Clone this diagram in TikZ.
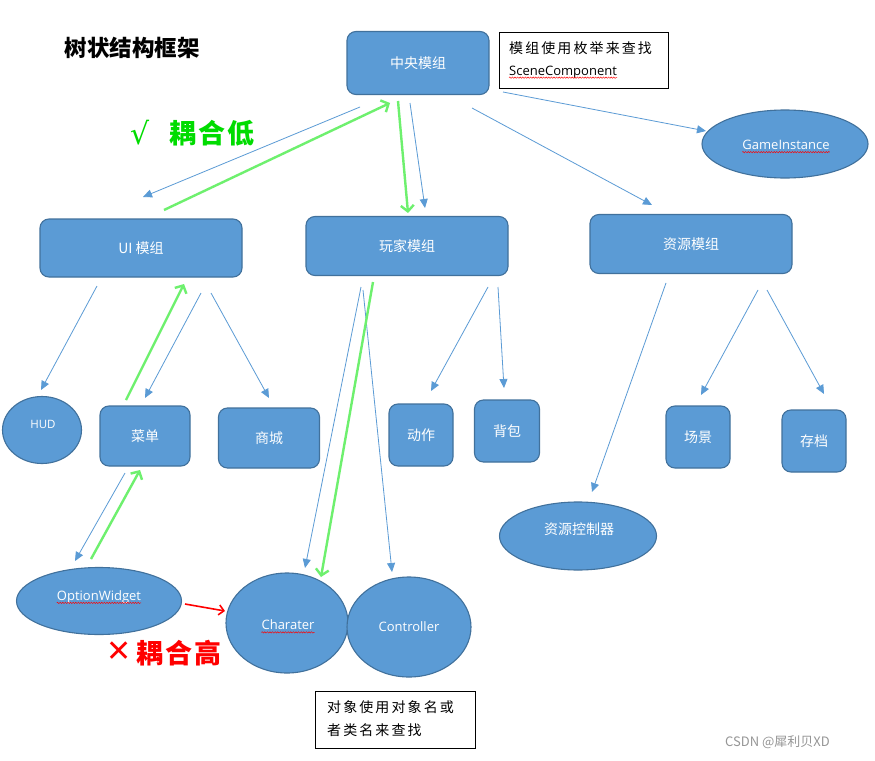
\documentclass[tikz,border=0pt]{standalone}
\usepackage{fontspec}
\newfontfamily\cjk{Noto Sans CJK SC}
\newfontfamily\cjksp{Noto Sans CJK SC}[LetterSpace=15]
\newfontfamily\cjkwide{Noto Sans CJK SC}[LetterSpace=8]
\newfontfamily\lat{Open Sans}
\newfontfamily\dvs{DejaVu Sans}
\usetikzlibrary{arrows.meta,shapes.geometric,decorations.pathmorphing}
\definecolor{boxblue}{RGB}{91,155,213}
\definecolor{boxedge}{RGB}{65,113,156}
\definecolor{arrowblue}{RGB}{91,155,213}
\definecolor{lgreen}{RGB}{110,240,110}
\definecolor{tgreen}{RGB}{0,220,0}
\definecolor{wm}{RGB}{150,150,150}
\begin{document}
\begin{tikzpicture}[x=1pt,y=-1pt,
  box/.style={draw=boxedge,fill=boxblue,line width=1.1pt,rounded corners=9pt,text=white,inner sep=0pt,font=\cjk\fontsize{14}{16}\selectfont},
  ell/.style={ellipse,draw=boxedge,fill=boxblue,line width=1.1pt,inner sep=0pt},
  etext/.style={text=white,inner sep=0pt,font=\lat\fontsize{13}{15}\selectfont},
  ctext/.style={text=white,inner sep=0pt,font=\cjk\fontsize{14}{16}\selectfont},
  note/.style={draw=black,line width=0.8pt,fill=white},
  notetext/.style={anchor=west,inner sep=0pt,font=\cjksp\fontsize{14}{16}\selectfont},
  barrow/.style={draw=arrowblue,line width=0.8pt,-{Triangle[length=9pt,width=8pt]}},
  garrow/.style={draw=lgreen,line width=2.4pt,-{Straight Barb[length=6pt,width=13pt]}},
  rarrow/.style={draw=red,line width=1.6pt,-{Straight Barb[length=5pt,width=10pt]}},
  squig/.style={draw=red,line width=0.45pt,decorate,decoration={snake,amplitude=0.7pt,segment length=2.6pt}}
]
\useasboundingbox (0,0) rectangle (875,760);
\fill[white] (0,0) rectangle (875,760);

% title
\node[font=\cjk\bfseries\fontsize{22.5}{25}\selectfont] (title) at (132,48) {树状结构框架};

% boxes
\node[box,minimum width=142pt,minimum height=63pt] (central) at (418,63) {中央模组};
\node[box,minimum width=202pt,minimum height=58pt] (ui) at (141,248) {UI 模组};
\node[box,minimum width=202pt,minimum height=59pt] (player) at (407,246) {玩家模组};
\node[box,minimum width=202pt,minimum height=59pt] (res) at (691,244) {资源模组};
\node[box,minimum width=90pt,minimum height=60pt] (menu) at (145,436) {菜单};
\node[box,minimum width=101pt,minimum height=60pt] (shop) at (269,438) {商城};
\node[box,minimum width=64pt,minimum height=62pt] (act) at (421,435) {动作};
\node[box,minimum width=65pt,minimum height=62pt] (bag) at (507,431) {背包};
\node[box,minimum width=64pt,minimum height=62pt] (scene) at (698,437) {场景};
\node[box,minimum width=64pt,minimum height=62pt] (save) at (814,441) {存档};

% ellipses
\node[ell,minimum width=166pt,minimum height=68pt] (gi) at (785,144) {};
\node[etext] (giT) at (786,145) {GameInstance};
\node[ell,minimum width=79pt,minimum height=67pt] (hud) at (42,430) {};
\node[etext,font=\lat\fontsize{11.5}{13}\selectfont] (hudT) at (43,424) {HUD};
\node[ell,minimum width=157pt,minimum height=68pt] (resctl) at (578,536) {};
\node[ctext] (resctlT) at (579,529) {资源控制器};
\node[ell,minimum width=165pt,minimum height=67pt] (ow) at (99,601) {};
\node[etext] (owT) at (99,597) {OptionWidget};
\node[ell,minimum width=122pt,minimum height=100pt] (char) at (287,623) {};
\node[etext] (charT) at (288,625) {Charater};
\node[ell,minimum width=124pt,minimum height=100pt] (ctrl) at (409,627) {};
\node[etext] (ctrlT) at (409,627) {Controller};

% spell-check squiggles
\draw[squig] ([yshift=-2.5pt]giT.base west) -- ([yshift=-2.5pt]giT.base east);
\draw[squig] ([yshift=-2.5pt]owT.base west) -- ([yshift=-2.5pt]owT.base east);
\draw[squig] ([yshift=-2.5pt]charT.base west) -- ([yshift=-2.5pt]charT.base east);

% notes
\node[note,minimum width=169pt,minimum height=56pt] (note1) at (583.5,60) {};
\node[notetext] (note1a) at (509,48) {模组使用枚举来查找};
\node[notetext,font=\lat\fontsize{13}{15}\selectfont] (note1b) at (509,72) {SceneComponent};
\draw[squig] ([yshift=-2.5pt]note1b.base west) -- ([yshift=-2.5pt]note1b.base east);
\node[note,minimum width=160pt,minimum height=57pt] (note2) at (395,719.5) {};
\node[notetext] (note2a) at (327,707) {对象使用对象名或};
\node[notetext] (note2b) at (327,730) {者类名来查找};

% annotations
\node[text=tgreen,font=\dvs\fontsize{30}{32}\selectfont,anchor=west,inner sep=0pt] (okmark) at (130,133) {√};
\node[text=tgreen,font=\cjkwide\bfseries\fontsize{27}{30}\selectfont,anchor=west,inner sep=0pt] (oktext) at (169,133) {耦合低};
\node[text=red,font=\dvs\fontsize{30}{32}\selectfont,anchor=west,inner sep=0pt] (badmark) at (106,652) {✕};
\node[text=red,font=\cjkwide\bfseries\fontsize{27}{30}\selectfont,anchor=west,inner sep=0pt] (badtext) at (136,653) {耦合高};

% watermark
\node[text=wm,font=\cjk\fontsize{13}{15}\selectfont,anchor=west,inner sep=0pt] (wmark) at (725,742) {CSDN @犀利贝XD};

% connector end points
\coordinate (a1s) at (360,107); \coordinate (a1e) at (143,197);
\coordinate (a2s) at (410,103); \coordinate (a2e) at (425,208);
\coordinate (a3s) at (472,108); \coordinate (a3e) at (652,205);
\coordinate (a4s) at (503,92);  \coordinate (a4e) at (706,131);
\coordinate (g5s) at (164,210); \coordinate (g5e) at (390,103);
\coordinate (g6s) at (398,101); \coordinate (g6e) at (408,213);
\coordinate (a7s) at (97,286);  \coordinate (a7e) at (41,390);
\coordinate (a8s) at (201,293); \coordinate (a8e) at (145,398);
\coordinate (a9s) at (211,293); \coordinate (a9e) at (269,398);
\coordinate (g10s) at (126,400); \coordinate (g10e) at (184,284);
\coordinate (a11s) at (361,287); \coordinate (a11e) at (305,568);
\coordinate (a12s) at (363,290); \coordinate (a12e) at (392,572);
\coordinate (g13s) at (373,282); \coordinate (g13e) at (321,577);
\coordinate (a14s) at (488,287); \coordinate (a14e) at (431,391);
\coordinate (a15s) at (498,287); \coordinate (a15e) at (504,388);
\coordinate (a16s) at (666,283); \coordinate (a16e) at (592,492);
\coordinate (a17s) at (758,290); \coordinate (a17e) at (701,395);
\coordinate (a18s) at (767,290); \coordinate (a18e) at (824,394);
\coordinate (a19s) at (125,473); \coordinate (a19e) at (75,561);
\coordinate (g20s) at (91,559);  \coordinate (g20e) at (140,470);
\coordinate (r21s) at (185,604); \coordinate (r21e) at (225,611);

% blue arrows
\foreach \n in {a1,a2,a3,a4,a7,a8,a9,a11,a12,a14,a15,a16,a17,a18,a19}
  \draw[barrow] (\n s) -- (\n e);
% green arrows
\foreach \n in {g5,g6,g10,g13,g20}
  \draw[garrow] (\n s) -- (\n e);
% red arrow
\draw[rarrow] (r21s) -- (r21e);
\end{tikzpicture}
\end{document}
